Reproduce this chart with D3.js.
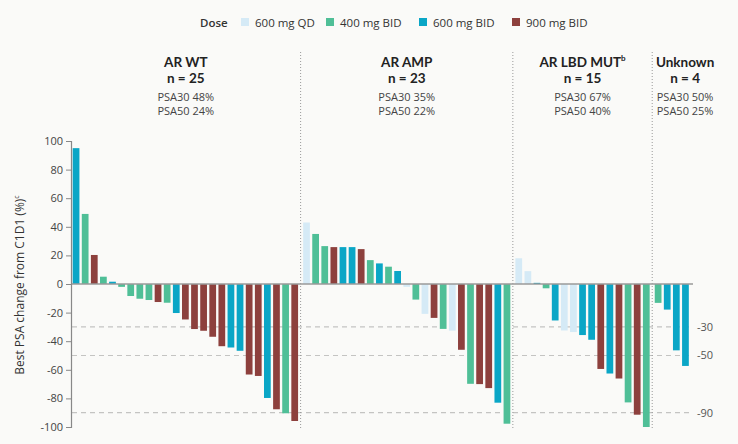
<!DOCTYPE html>
<html><head><meta charset="utf-8">
<script src="https://cdn.jsdelivr.net/npm/d3@7/dist/d3.min.js"></script>
<style>
html,body{margin:0;padding:0;background:#fafaf8;}
svg{display:block;font-family:"Open Sans",sans-serif;}
</style></head><body>
<svg id="chart" width="738" height="444"></svg>
<script>
// ---- data ----
const doses = ["600 mg QD", "400 mg BID", "600 mg BID", "900 mg BID"];
const doseColors = ["#d5eaf6", "#4fbf97", "#0aa6c6", "#8d403d"];

const groups = ["AR WT", "AR AMP", "AR LBD MUT", "Unknown"];
const groupSup = ["", "", "b", ""];
const groupN = ["n = 25", "n = 23", "n = 15", "n = 4"];
const psa30 = ["PSA30 48%", "PSA30 35%", "PSA30 67%", "PSA30 50%"];
const psa50 = ["PSA50 24%", "PSA50 22%", "PSA50 40%", "PSA50 25%"];

// dose index per bar: 0=600 QD, 1=400 BID, 2=600 BID, 3=900 BID
const wtValues = [95, 49, 20.3, 5.1, 1.6, -2, -8.4, -10.3, -11.2, -12.6, -13.1, -20.3, -24.8, -31.5, -32.7, -36.9, -43.5, -44.4, -46.7, -63.3, -64.3, -79.7, -87.6, -90.4, -95.8];
const wtDose   = [2, 1, 3, 1, 2, 1, 1, 1, 1, 3, 1, 2, 3, 3, 3, 3, 3, 2, 2, 3, 3, 2, 3, 1, 3];
const ampValues = [43, 35, 26.5, 25.8, 25.8, 25.8, 24.4, 16.7, 14.4, 12.1, 9.1, -2, -10.9, -20.9, -23.7, -31.4, -32.6, -46, -69.8, -70, -72.8, -83, -97.7];
const ampDose   = [0, 1, 1, 3, 2, 2, 3, 1, 2, 1, 2, 0, 1, 0, 3, 1, 0, 3, 1, 3, 3, 2, 1];
const lbdValues = [18, 9, 0.8, -3, -25.5, -32.5, -33.6, -35.7, -39, -59.4, -62.6, -66.1, -82.8, -91.4, -100];
const lbdDose   = [0, 0, 2, 1, 2, 0, 0, 2, 2, 3, 2, 3, 1, 3, 1];
const unkValues = [-13.2, -17.9, -46.4, -57.3];
const unkDose   = [1, 2, 2, 2];

const yTicks = [100, 80, 60, 40, 20, 0, -20, -40, -60, -80, -100];
const refLines = [-30, -50, -90];

// ---- build bars ----
const groupValues = [wtValues, ampValues, lbdValues, unkValues];
const groupDoses = [wtDose, ampDose, lbdDose, unkDose];
const bars = [];
groupValues.forEach((vals, g) => vals.forEach((v, i) => bars.push({id: g + "-" + i, g, v, dose: groupDoses[g][i]})));

const svg = d3.select("#chart");
const axisX = 71, lineEnd = 693, groupGap = 2.7;
const y = d3.scaleLinear().domain([-100, 100]).range([427, 141]);
const x = d3.scaleBand().domain(bars.map(d => d.id))
  .range([71.5, 681.9]).paddingInner(0.26).paddingOuter(0.13);
const bx = d => x(d.id) + d.g * groupGap;

// reference dashed lines
svg.append("g").selectAll("line").data(refLines).join("line")
  .attr("x1", axisX + 1).attr("x2", lineEnd)
  .attr("y1", d => y(d)).attr("y2", d => y(d))
  .attr("stroke", "#c4c4c2").attr("stroke-width", 1.2).attr("stroke-dasharray", "5,4");
svg.append("g").selectAll("text").data(refLines).join("text")
  .attr("x", 697).attr("y", d => y(d)).attr("dy", "0.35em")
  .attr("font-size", 11).attr("fill", "#555").text(d => "-" + Math.abs(d));

// group dividers
const dividers = [];
for (let g = 1; g < groups.length; g++) {
  const prev = bars.filter(b => b.g === g - 1).slice(-1)[0];
  const next = bars.find(b => b.g === g);
  dividers.push((bx(prev) + x.bandwidth() + bx(next)) / 2);
}
svg.append("g").selectAll("line").data(dividers).join("line")
  .attr("x1", d => d).attr("x2", d => d).attr("y1", 52).attr("y2", 428)
  .attr("stroke", "#999").attr("stroke-width", 1).attr("stroke-dasharray", "1,2");

// bars
svg.append("g").selectAll("rect").data(bars).join("rect")
  .attr("x", d => bx(d)).attr("width", x.bandwidth())
  .attr("y", d => y(Math.max(0, d.v)))
  .attr("height", d => Math.abs(y(d.v) - y(0)))
  .attr("fill", d => doseColors[d.dose]);

// zero line
svg.append("line").attr("x1", axisX).attr("x2", lineEnd).attr("y1", y(0)).attr("y2", y(0))
  .attr("stroke", "#9a9a9a").attr("stroke-width", 1.5);

// y axis
const yAxis = svg.append("g").attr("transform", `translate(${axisX},0)`)
  .call(d3.axisLeft(y).tickValues(yTicks).tickSize(5).tickFormat(d => String(d)));
yAxis.select(".domain").attr("stroke", "#888").attr("stroke-width", 1.2);
yAxis.selectAll(".tick line").attr("stroke", "#888");
yAxis.selectAll(".tick text").attr("font-size", 11).attr("fill", "#444")
  .attr("font-family", "'Open Sans',sans-serif").attr("x", -8);

// y axis title
const yt = svg.append("text").attr("transform", "translate(24,285) rotate(-90)")
  .attr("text-anchor", "middle").attr("font-size", 12).attr("fill", "#333");
yt.append("tspan").text("Best PSA change from C1D1 (%)");
yt.append("tspan").attr("font-size", 7).attr("dy", -5).text("c");

// group headers
const bounds = [axisX, ...dividers, 718];
groups.forEach((name, g) => {
  const cx = (bounds[g] + bounds[g + 1]) / 2;
  const t = svg.append("text").attr("x", cx).attr("y", 66.5).attr("text-anchor", "middle")
    .attr("font-family", "Lato, 'Open Sans', sans-serif")
    .attr("font-size", 13.5).attr("font-weight", 700).attr("fill", "#222");
  t.append("tspan").text(name);
  if (groupSup[g]) t.append("tspan").attr("font-size", 8).attr("dy", -6).text(groupSup[g]);
  svg.append("text").attr("x", cx).attr("y", 82.5).attr("text-anchor", "middle")
    .attr("font-family", "Lato, 'Open Sans', sans-serif")
    .attr("font-size", 13.5).attr("font-weight", 700).attr("fill", "#222").text(groupN[g]);
  const p = svg.append("text").attr("x", cx).attr("y", 100.5).attr("text-anchor", "middle")
    .attr("font-size", 11).attr("fill", "#444");
  p.append("tspan").text(psa30[g]);
  p.append("tspan").attr("x", cx).attr("dy", 14).text(psa50[g]);
});

// legend
svg.append("text").attr("x", 200).attr("y", 26.5).attr("font-size", 11.5)
  .attr("font-weight", 600).attr("fill", "#333").text("Dose");
const legX = [241, 326, 419, 512];
const leg = svg.append("g").selectAll("g").data(doses).join("g")
  .attr("transform", (d, i) => `translate(${legX[i]},0)`);
leg.append("rect").attr("x", 0).attr("y", 18).attr("width", 8).attr("height", 8)
  .attr("fill", (d, i) => doseColors[i]);
leg.append("text").attr("x", 14).attr("y", 26.5).attr("font-size", 11.5).attr("fill", "#333").text(d => d);
</script>
</body></html>
